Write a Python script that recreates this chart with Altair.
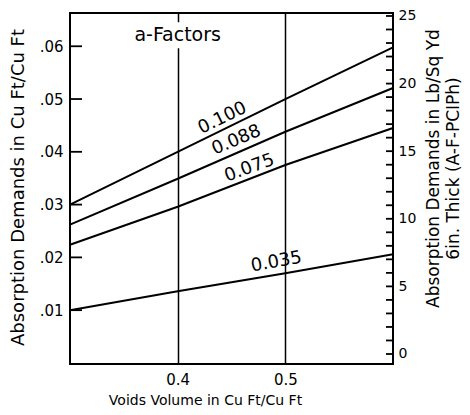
import altair as alt
import pandas as pd

# ---- data ----
x_vals = [0.3, 0.4, 0.5, 0.6]
s_100 = [0.030, 0.040, 0.050, 0.0598]
s_088 = [0.0262, 0.0349, 0.0438, 0.0521]
s_075 = [0.0224, 0.0296, 0.0375, 0.0445]
s_035 = [0.0100, 0.0136, 0.0170, 0.0206]
series_names = ["0.100", "0.088", "0.075", "0.035"]

label_x = [0.4417, 0.4546, 0.4667, 0.4917]
label_y = [0.04636, 0.0422, 0.0369, 0.0191]
label_angle = [334, 337, 340, 350]

left_ticks = [0.01, 0.02, 0.03, 0.04, 0.05, 0.06]
right_ticks = list(range(0, 26))
x_ticks = [0.4, 0.5]

title_text = ["a-Factors"]
title_x = [0.4]
title_y = [0.0621]

X_DOM = [0.3, 0.6]
Y_DOM = [-0.0002, 0.0663]
R_DOM = [-0.74, 25.22]
FONT = "DejaVu Sans"
W, H = 323, 351
LEFT_TICK_PX, RIGHT_TICK_PX = 12, 7

rows = []
for name, vals in zip(series_names, [s_100, s_088, s_075, s_035]):
    for xv, yv in zip(x_vals, vals):
        rows.append({"series": name, "kind": "curve", "x": xv, "y": yv})

# inward tick segments (axis decoration) drawn in the same layer;
# right-axis values are mapped linearly onto the left scale
span = X_DOM[1] - X_DOM[0]
def r_to_left(r):
    return Y_DOM[0] + (r - R_DOM[0]) / (R_DOM[1] - R_DOM[0]) * (Y_DOM[1] - Y_DOM[0])

for i, t in enumerate(left_ticks):
    rows.append({"series": f"lt{i}", "kind": "tick", "x": X_DOM[0], "y": t})
    rows.append({"series": f"lt{i}", "kind": "tick", "x": X_DOM[0] + LEFT_TICK_PX / W * span, "y": t})
for i, t in enumerate(right_ticks):
    yv = r_to_left(t)
    rows.append({"series": f"rt{i}", "kind": "tick", "x": X_DOM[1] - RIGHT_TICK_PX / W * span, "y": yv})
    rows.append({"series": f"rt{i}", "kind": "tick", "x": X_DOM[1], "y": yv})
lines_df = pd.DataFrame(rows)

labels_df = pd.DataFrame({"text": series_names, "x": label_x, "y": label_y, "angle": label_angle})
af_df = pd.DataFrame({"text": title_text, "x": title_x, "y": title_y})
rt_df = pd.DataFrame({"rv": right_ticks})

xs = alt.Scale(domain=X_DOM, nice=False, zero=False)
ys = alt.Scale(domain=Y_DOM, nice=False, zero=False)
rs = alt.Scale(domain=R_DOM, nice=False, zero=False)

x_axis = alt.Axis(
    values=x_ticks, format=".1f", grid=True, gridColor="black", gridWidth=1.5,
    gridOpacity=1, ticks=False, tickSize=0, domain=False, labelPadding=8,
    labelFont=FONT, labelFontSize=15, labelColor="black",
    title="Voids Volume in Cu Ft/Cu Ft", titleFont=FONT, titleFontSize=14,
    titleFontWeight="normal", titleColor="black", titleX=135, titleY=36,
    titleAlign="center", titleBaseline="middle",
)
y_axis = alt.Axis(
    values=left_ticks, labelExpr="slice(format(datum.value, '.2f'), 1)",
    grid=False, domain=False, ticks=False, tickSize=0, labelPadding=7,
    labelFont=FONT, labelFontSize=15, labelColor="black",
    title="Absorption Demands in Cu Ft/Cu Ft", titleFont=FONT, titleFontSize=18,
    titleFontWeight="normal", titleColor="black", titleAngle=270,
    titleX=-52, titleY=174, titleAlign="center", titleBaseline="middle",
)
r_axis = alt.Axis(
    orient="right", values=right_ticks,
    labelExpr="datum.value % 5 == 0 ? format(datum.value, 'd') : ''",
    grid=False, domain=False, ticks=False, tickSize=0, labelPadding=5,
    labelFont=FONT, labelFontSize=14, labelColor="black",
    title=["Absorption Demands in Lb/Sq Yd", "6in. Thick (A-F-PCIPh)"],
    titleFont=FONT, titleFontSize=17, titleFontWeight="normal", titleColor="black",
    titleAngle=270, titleX=40, titleY=155, titleAlign="center",
    titleBaseline="middle", titleLineHeight=20,
)

lines = alt.Chart(lines_df).mark_line(color="black").encode(
    x=alt.X("x:Q", scale=xs, axis=x_axis),
    y=alt.Y("y:Q", scale=ys, axis=y_axis),
    detail="series:N",
    strokeWidth=alt.StrokeWidth(
        "kind:N", scale=alt.Scale(domain=["curve", "tick"], range=[2, 1.8]), legend=None
    ),
)
bg = alt.Chart(af_df).mark_rect(fill="white", width=100, height=26).encode(
    x=alt.X("x:Q", scale=xs),
    y=alt.Y("y:Q", scale=ys, axis=None),
)
af_text = alt.Chart(af_df).mark_text(
    font=FONT, fontSize=19, color="black", align="center", baseline="middle"
).encode(
    x=alt.X("x:Q", scale=xs),
    y=alt.Y("y:Q", scale=ys, axis=None),
    text="text:N",
)
line_labels = alt.Chart(labels_df).mark_text(
    font=FONT, fontSize=18, color="black", align="center", baseline="middle"
).encode(
    x=alt.X("x:Q", scale=xs),
    y=alt.Y("y:Q", scale=ys, axis=None),
    text="text:N",
    angle=alt.Angle("angle:Q", scale=None),
)
right = alt.Chart(rt_df).mark_point(opacity=0).encode(
    x=alt.value(0),
    y=alt.Y("rv:Q", scale=rs, axis=r_axis),
)

chart = alt.layer(lines, bg, af_text, line_labels, right).resolve_scale(
    y="independent"
).properties(
    width=W, height=H,
    autosize=alt.AutoSizeParams(type="none"),
    padding={"left": 62, "top": 5, "right": 69, "bottom": 43},
    background="white",
).configure_view(stroke="black", strokeWidth=2)

chart.save("out.html", embed_options={"renderer": "svg", "actions": False})
